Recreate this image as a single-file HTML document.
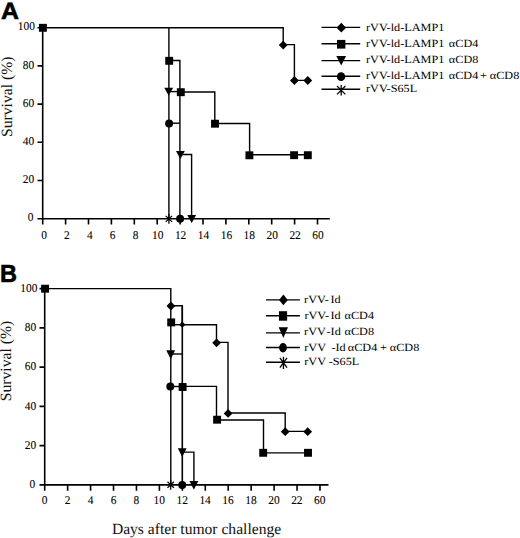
<!DOCTYPE html>
<html><head><meta charset="utf-8"><style>
html,body{margin:0;padding:0;background:#fff;}
body{width:520px;height:538px;overflow:hidden;}
svg{display:block;text-rendering:geometricPrecision;}
.t{font-family:"Liberation Serif",serif;font-size:11.9px;fill:#000;stroke:#000;stroke-width:0.08px;}
.lg{font-family:"Liberation Serif",serif;font-size:11px;fill:#000;}
.yt{font-family:"Liberation Serif",serif;font-size:15.7px;fill:#111;}
.xt{font-family:"Liberation Serif",serif;font-size:15.6px;fill:#111;}
.pl{font-family:"Liberation Sans",sans-serif;font-weight:bold;font-size:23.5px;fill:#000;stroke:#000;stroke-width:0.6px;}
</style></head><body>
<svg width="520" height="538" viewBox="0 0 520 538" fill="#000">
<path d="M42.70 27.70V218.70M37.50 218.70H329.80" fill="none" stroke="#000" stroke-width="1.6"/>
<path d="M37.50 180.50H42.70M37.50 142.30H42.70M37.50 104.10H42.70M37.50 65.90H42.70M37.50 27.70H42.70M42.70 218.70V224.50M65.60 218.70V224.50M88.50 218.70V224.50M111.40 218.70V224.50M134.30 218.70V224.50M157.20 218.70V224.50M180.10 218.70V224.50M203.00 218.70V224.50M225.90 218.70V224.50M248.80 218.70V224.50M271.70 218.70V224.50M294.60 218.70V224.50M317.50 218.70V224.50" fill="none" stroke="#000" stroke-width="1.6"/>
<text transform="translate(33.40 221.30) scale(0.96,1)" text-anchor="end" class="t">0</text>
<text transform="translate(34.10 183.10) scale(0.96,1)" text-anchor="end" class="t">20</text>
<text transform="translate(34.10 144.90) scale(0.96,1)" text-anchor="end" class="t">40</text>
<text transform="translate(34.10 106.70) scale(0.96,1)" text-anchor="end" class="t">60</text>
<text transform="translate(34.10 68.50) scale(0.96,1)" text-anchor="end" class="t">80</text>
<text transform="translate(35.00 30.30) scale(0.96,1)" text-anchor="end" class="t">100</text>
<text transform="translate(44.00 239.00) scale(0.96,1)" text-anchor="middle" class="t">0</text>
<text transform="translate(66.90 239.00) scale(0.96,1)" text-anchor="middle" class="t">2</text>
<text transform="translate(89.80 239.00) scale(0.96,1)" text-anchor="middle" class="t">4</text>
<text transform="translate(112.70 239.00) scale(0.96,1)" text-anchor="middle" class="t">6</text>
<text transform="translate(135.60 239.00) scale(0.96,1)" text-anchor="middle" class="t">8</text>
<text transform="translate(157.70 239.00) scale(0.96,1)" text-anchor="middle" class="t">10</text>
<text transform="translate(180.60 239.00) scale(0.96,1)" text-anchor="middle" class="t">12</text>
<text transform="translate(203.50 239.00) scale(0.96,1)" text-anchor="middle" class="t">14</text>
<text transform="translate(226.40 239.00) scale(0.96,1)" text-anchor="middle" class="t">16</text>
<text transform="translate(249.30 239.00) scale(0.96,1)" text-anchor="middle" class="t">18</text>
<text transform="translate(272.20 239.00) scale(0.96,1)" text-anchor="middle" class="t">20</text>
<text transform="translate(295.10 239.00) scale(0.96,1)" text-anchor="middle" class="t">22</text>
<text transform="translate(318.00 239.00) scale(0.96,1)" text-anchor="middle" class="t">60</text>
<text transform="translate(11.60 96.80) rotate(-90)" text-anchor="middle" class="yt">Survival (%)</text>
<text transform="translate(0.90 18.90) scale(1.06,1)" class="pl">A</text>
<path d="M42.70 27.70 L283.20 27.70 L283.20 44.60 L294.40 44.60 L294.40 80.40 L307.80 80.40" fill="none" stroke="#000" stroke-width="1.4" stroke-linejoin="miter"/>
<path d="M168.90 27.70 L168.90 218.70" fill="none" stroke="#000" stroke-width="1.4" stroke-linejoin="miter"/>
<path d="M168.90 60.50 L179.90 60.50 L179.90 92.00 L214.80 92.00 L214.80 123.50 L249.60 123.50 L249.60 154.70 L307.80 154.70" fill="none" stroke="#000" stroke-width="1.4" stroke-linejoin="miter"/>
<path d="M168.90 91.60 L179.90 91.60" fill="none" stroke="#000" stroke-width="1.4" stroke-linejoin="miter"/>
<path d="M179.90 92.00 L179.90 218.70" fill="none" stroke="#000" stroke-width="1.4" stroke-linejoin="miter"/>
<path d="M179.90 154.50 L191.60 154.50 L191.60 218.70" fill="none" stroke="#000" stroke-width="1.4" stroke-linejoin="miter"/>
<path d="M168.90 123.20 L179.90 123.20" fill="none" stroke="#000" stroke-width="1.4" stroke-linejoin="miter"/>
<path d="M283.20 40.70L287.60 45.10L283.20 49.50L278.80 45.10Z"/>
<path d="M294.40 76.10L298.80 80.50L294.40 84.90L290.00 80.50Z"/>
<path d="M307.80 76.10L312.20 80.50L307.80 84.90L303.40 80.50Z"/>
<rect x="38.95" y="23.85" width="7.90" height="7.90"/>
<rect x="165.25" y="56.85" width="7.90" height="7.90"/>
<rect x="176.85" y="88.25" width="7.90" height="7.90"/>
<rect x="211.05" y="119.75" width="7.90" height="7.90"/>
<rect x="245.45" y="151.35" width="7.90" height="7.90"/>
<rect x="290.15" y="151.25" width="7.90" height="7.90"/>
<rect x="303.85" y="151.25" width="7.90" height="7.90"/>
<path d="M164.30 87.70L173.10 87.70L168.70 95.70Z"/>
<path d="M176.00 151.10L184.80 151.10L180.40 159.10Z"/>
<path d="M187.30 215.10L196.10 215.10L191.70 223.10Z"/>
<ellipse cx="169.10" cy="123.60" rx="4.00" ry="4.00"/>
<ellipse cx="180.10" cy="218.70" rx="4.00" ry="4.00"/>
<path d="M168.90 214.00V223.80M165.70 215.90L172.10 221.90M165.70 221.90L172.10 215.90" fill="none" stroke="#000" stroke-width="1.25"/>
<path d="M321.50 27.40 L360.20 27.40" fill="none" stroke="#000" stroke-width="1.4" stroke-linejoin="miter"/>
<path d="M341.30 22.82L346.05 27.70L341.30 32.58L336.55 27.70Z"/>
<text transform="translate(366.04 31.00) scale(1.11,1)" class="lg">rVV-ld-LAMP1</text>
<path d="M321.50 43.80 L360.20 43.80" fill="none" stroke="#000" stroke-width="1.4" stroke-linejoin="miter"/>
<rect x="337.01" y="39.91" width="8.37" height="8.69"/>
<text transform="translate(366.04 46.70) scale(1.11,1)" class="lg">rVV-ld-LAMP1</text>
<text transform="translate(448.85 46.70) scale(1.11,1)" class="lg">αCD4</text>
<path d="M321.50 60.60 L360.20 60.60" fill="none" stroke="#000" stroke-width="1.4" stroke-linejoin="miter"/>
<path d="M336.32 55.98L346.08 55.98L341.20 65.58Z"/>
<text transform="translate(366.04 63.30) scale(1.11,1)" class="lg">rVV-ld-LAMP1</text>
<text transform="translate(448.85 63.30) scale(1.11,1)" class="lg">αCD8</text>
<path d="M321.50 76.30 L360.20 76.30" fill="none" stroke="#000" stroke-width="1.4" stroke-linejoin="miter"/>
<ellipse cx="341.05" cy="76.65" rx="4.16" ry="4.36"/>
<text transform="translate(366.04 79.20) scale(1.11,1)" class="lg">rVV-ld-LAMP1</text>
<text transform="translate(448.77 79.20) scale(1.11,1)" class="lg">αCD4</text>
<text transform="translate(480.11 79.20) scale(1.11,1)" class="lg">+</text>
<text transform="translate(489.77 79.20) scale(1.11,1)" class="lg">αCD8</text>
<path d="M321.50 89.30 L360.20 89.30" fill="none" stroke="#000" stroke-width="1.4" stroke-linejoin="miter"/>
<path d="M341.20 85.00V95.40M337.00 86.00L345.40 94.40M337.00 94.40L345.40 86.00" fill="none" stroke="#000" stroke-width="1.3"/>
<text transform="translate(366.04 92.00) scale(1.11,1)" class="lg">rVV-S65L</text>
<path d="M44.70 288.60V484.90M39.50 484.90H328.50" fill="none" stroke="#000" stroke-width="1.6"/>
<path d="M39.50 445.64H44.70M39.50 406.38H44.70M39.50 367.12H44.70M39.50 327.86H44.70M39.50 288.60H44.70M44.70 484.90V490.70M67.64 484.90V490.70M90.58 484.90V490.70M113.52 484.90V490.70M136.46 484.90V490.70M159.40 484.90V490.70M182.34 484.90V490.70M205.28 484.90V490.70M228.22 484.90V490.70M251.16 484.90V490.70M274.10 484.90V490.70M297.04 484.90V490.70M319.98 484.90V490.70" fill="none" stroke="#000" stroke-width="1.6"/>
<text transform="translate(35.30 488.20) scale(0.96,1)" text-anchor="end" class="t">0</text>
<text transform="translate(36.20 448.94) scale(0.96,1)" text-anchor="end" class="t">20</text>
<text transform="translate(36.20 409.68) scale(0.96,1)" text-anchor="end" class="t">40</text>
<text transform="translate(36.20 370.42) scale(0.96,1)" text-anchor="end" class="t">60</text>
<text transform="translate(36.20 331.16) scale(0.96,1)" text-anchor="end" class="t">80</text>
<text transform="translate(37.50 291.90) scale(0.96,1)" text-anchor="end" class="t">100</text>
<text transform="translate(44.70 503.50) scale(0.96,1)" text-anchor="middle" class="t">0</text>
<text transform="translate(67.64 503.50) scale(0.96,1)" text-anchor="middle" class="t">2</text>
<text transform="translate(90.58 503.50) scale(0.96,1)" text-anchor="middle" class="t">4</text>
<text transform="translate(113.52 503.50) scale(0.96,1)" text-anchor="middle" class="t">6</text>
<text transform="translate(136.46 503.50) scale(0.96,1)" text-anchor="middle" class="t">8</text>
<text transform="translate(159.20 503.50) scale(0.96,1)" text-anchor="middle" class="t">10</text>
<text transform="translate(182.14 503.50) scale(0.96,1)" text-anchor="middle" class="t">12</text>
<text transform="translate(205.08 503.50) scale(0.96,1)" text-anchor="middle" class="t">14</text>
<text transform="translate(228.02 503.50) scale(0.96,1)" text-anchor="middle" class="t">16</text>
<text transform="translate(250.96 503.50) scale(0.96,1)" text-anchor="middle" class="t">18</text>
<text transform="translate(273.90 503.50) scale(0.96,1)" text-anchor="middle" class="t">20</text>
<text transform="translate(296.84 503.50) scale(0.96,1)" text-anchor="middle" class="t">22</text>
<text transform="translate(319.78 503.50) scale(0.96,1)" text-anchor="middle" class="t">60</text>
<text transform="translate(11.20 361.00) rotate(-90)" text-anchor="middle" class="yt">Survival (%)</text>
<text transform="translate(0.10 281.60) scale(1.0,1.05)" class="pl">B</text>
<path d="M44.70 288.60 L170.80 288.60 L170.80 484.90" fill="none" stroke="#000" stroke-width="1.4" stroke-linejoin="miter"/>
<path d="M170.80 305.70 L182.30 305.70 L182.30 324.70 L216.50 324.70 L216.50 342.40 L228.00 342.40 L228.00 413.00 L285.20 413.00 L285.20 431.40 L307.80 431.40" fill="none" stroke="#000" stroke-width="1.4" stroke-linejoin="miter"/>
<path d="M170.80 324.70 L182.30 324.70" fill="none" stroke="#000" stroke-width="1.4" stroke-linejoin="miter"/>
<path d="M182.30 305.70 L182.30 484.90" fill="none" stroke="#000" stroke-width="1.6" stroke-linejoin="miter"/>
<path d="M182.30 386.40 L216.50 386.40 L216.50 420.00 L263.50 420.00 L263.50 452.90 L307.80 452.90" fill="none" stroke="#000" stroke-width="1.4" stroke-linejoin="miter"/>
<path d="M170.80 354.00 L182.30 354.00" fill="none" stroke="#000" stroke-width="1.4" stroke-linejoin="miter"/>
<path d="M170.80 386.50 L182.30 386.50" fill="none" stroke="#000" stroke-width="1.4" stroke-linejoin="miter"/>
<path d="M182.30 452.10 L193.90 452.10 L193.90 484.90" fill="none" stroke="#000" stroke-width="1.4" stroke-linejoin="miter"/>
<path d="M170.90 301.60L175.30 306.00L170.90 310.40L166.50 306.00Z"/>
<path d="M216.60 338.40L221.00 342.80L216.60 347.20L212.20 342.80Z"/>
<path d="M228.10 409.00L232.50 413.40L228.10 417.80L223.70 413.40Z"/>
<path d="M285.20 427.30L289.60 431.70L285.20 436.10L280.80 431.70Z"/>
<path d="M307.70 427.30L312.10 431.70L307.70 436.10L303.30 431.70Z"/>
<path d="M182.30 321.60L185.40 324.70L182.30 327.80L179.20 324.70Z"/>
<rect x="41.15" y="284.75" width="7.90" height="7.90"/>
<rect x="167.25" y="318.45" width="7.90" height="7.90"/>
<rect x="178.65" y="383.05" width="7.90" height="7.90"/>
<rect x="213.15" y="415.75" width="7.90" height="7.90"/>
<rect x="259.25" y="448.85" width="7.90" height="7.90"/>
<rect x="304.05" y="448.85" width="7.90" height="7.90"/>
<path d="M166.30 350.34L175.10 350.34L170.70 359.14Z"/>
<path d="M177.80 448.24L186.60 448.24L182.20 457.04Z"/>
<path d="M189.50 480.94L198.30 480.94L193.90 489.74Z"/>
<ellipse cx="170.30" cy="386.60" rx="4.00" ry="4.00"/>
<ellipse cx="182.20" cy="485.00" rx="4.00" ry="4.00"/>
<path d="M170.70 479.90V489.70M167.50 481.80L173.90 487.80M167.50 487.80L173.90 481.80" fill="none" stroke="#000" stroke-width="1.25"/>
<path d="M266.00 299.90 L299.90 299.90" fill="none" stroke="#000" stroke-width="1.4" stroke-linejoin="miter"/>
<path d="M283.40 294.58L287.80 299.95L283.40 305.32L279.00 299.95Z"/>
<text transform="translate(304.07 302.80) scale(1.11,1)" class="lg">rVV-</text>
<text transform="translate(330.41 302.80) scale(1.11,1)" class="lg">Id</text>
<path d="M266.00 315.70 L299.90 315.70" fill="none" stroke="#000" stroke-width="1.4" stroke-linejoin="miter"/>
<rect x="278.98" y="311.21" width="8.14" height="9.48"/>
<text transform="translate(304.47 318.80) scale(1.11,1)" class="lg">rVV-</text>
<text transform="translate(330.41 318.80) scale(1.11,1)" class="lg">Id</text>
<text transform="translate(344.57 318.80) scale(1.11,1)" class="lg">αCD4</text>
<path d="M266.00 332.90 L299.90 332.90" fill="none" stroke="#000" stroke-width="1.4" stroke-linejoin="miter"/>
<path d="M278.69 327.18L288.01 327.18L283.35 337.90Z"/>
<text transform="translate(304.07 335.20) scale(1.11,1)" class="lg">rVV</text>
<text transform="translate(326.52 335.20) scale(1.11,1)" class="lg">-Id</text>
<text transform="translate(344.57 335.20) scale(1.11,1)" class="lg">αCD8</text>
<path d="M266.00 347.50 L299.90 347.50" fill="none" stroke="#000" stroke-width="1.4" stroke-linejoin="miter"/>
<ellipse cx="283.00" cy="347.75" rx="3.90" ry="4.64"/>
<text transform="translate(304.27 351.20) scale(1.11,1)" class="lg">rVV</text>
<text transform="translate(331.39 351.20) scale(1.11,1)" class="lg">-Id</text>
<text transform="translate(347.77 351.20) scale(1.11,1)" class="lg">αCD4</text>
<text transform="translate(380.11 351.20) scale(1.11,1)" class="lg">+</text>
<text transform="translate(389.77 351.20) scale(1.11,1)" class="lg">αCD8</text>
<path d="M266.00 362.30 L299.90 362.30" fill="none" stroke="#000" stroke-width="1.4" stroke-linejoin="miter"/>
<path d="M283.45 356.82V368.88M279.89 357.98L287.01 367.72M279.89 367.72L287.01 357.98" fill="none" stroke="#000" stroke-width="1.3"/>
<text transform="translate(304.27 365.00) scale(1.11,1)" class="lg">rVV</text>
<text transform="translate(328.72 365.00) scale(1.11,1)" class="lg">-S65L</text>
<text x="111.9" y="534.4" class="xt">Days after tumor challenge</text>
</svg>
</body></html>
